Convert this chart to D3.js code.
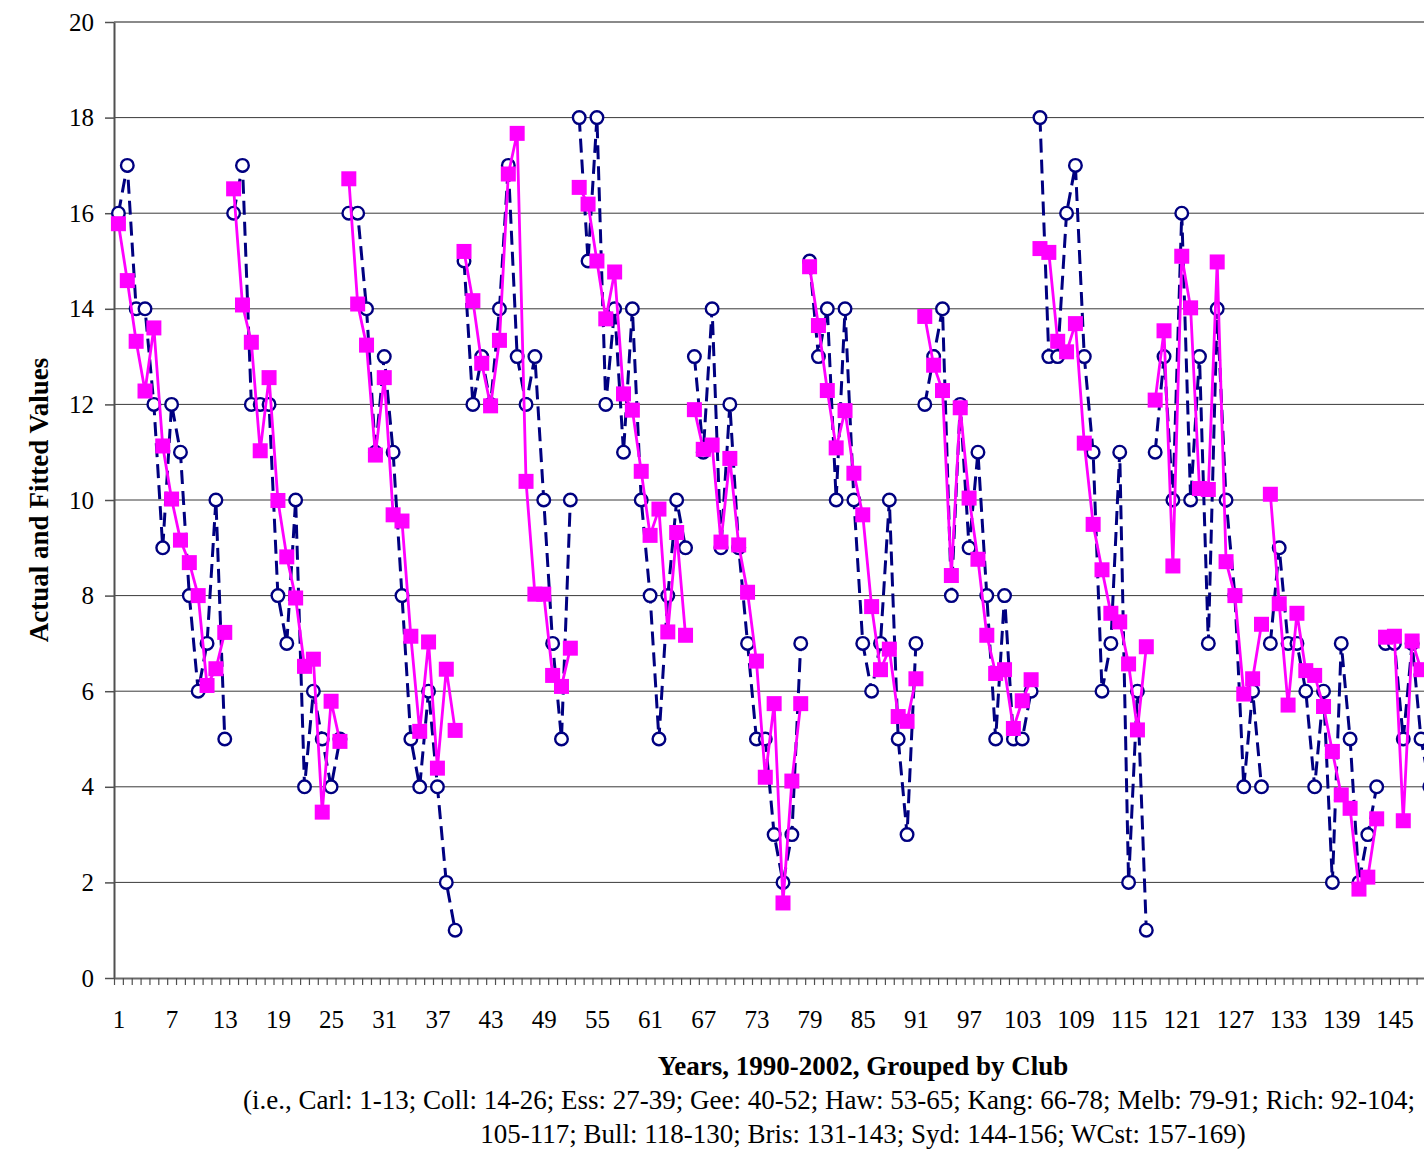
<!DOCTYPE html>
<html>
<head>
<meta charset="utf-8">
<script src="https://cdn.jsdelivr.net/npm/d3@7/dist/d3.min.js"></script>
<style>
  body { margin: 0; background: #fff; }
  svg { display: block; font-family: "Liberation Serif", "Times New Roman", serif; }
</style>
</head>
<body>
<svg id="chart" width="1424" height="1153"></svg>
<script>
// 13 clubs x 13 seasons (1990-2002), one category per club-season
const clubSize = 13
const categoryCount = 169

// only the labels that fit on the page (the chart runs on past the right edge)
const xTickLabels = [1, 7, 13, 19, 25, 31, 37, 43, 49, 55, 61, 67, 73, 79, 85, 91, 97, 103,
  109, 115, 121, 127, 133, 139, 145]
const yTicks = [0, 2, 4, 6, 8, 10, 12, 14, 16, 18, 20]

// actual values, club by club (only the part visible in the picture)
const actual = [
  16, 17, 14, 14, 12, 9, 12, 11, 8, 6, 7, 10, 5,        // Carl
  16, 17, 12, 12, 12, 8, 7, 10, 4, 6, 5, 4, 5,          // Coll
  16, 16, 14, 11, 13, 11, 8, 5, 4, 6, 4, 2, 1,          // Ess
  15, 12, 13, 12, 14, 17, 13, 12, 13, 10, 7, 5, 10,     // Gee
  18, 15, 18, 12, 14, 11, 14, 10, 8, 5, 8, 10, 9,       // Haw
  13, 11, 14, 9, 12, 9, 7, 5, 5, 3, 2, 3, 7,            // Kang
  15, 13, 14, 10, 14, 10, 7, 6, 7, 10, 5, 3, 7,         // Melb
  12, 13, 14, 8, 12, 9, 11, 8, 5, 8, 5, 5, 6,           // Rich
  18, 13, 13, 16, 17, 13, 11, 6, 7, 11, 2, 6, 1,        // 105-117
  11, 13, 10, 16, 10, 13, 7, 14, 10, 8, 4, 6, 4,        // Bull
  7, 9, 7, 7, 6, 4, 6, 2, 7, 5, 2, 3, 4,                // Bris
  7, 7, 5, 7, 5, 4                                      // Syd (cut off)
]

// fitted values
const fitted = [
  15.78, 14.59, 13.32, 12.28, 13.60, 11.13, 10.02, 9.16, 8.69, 8.00, 6.12, 6.47, 7.23,
  16.51, 14.08, 13.30, 11.03, 12.56, 9.99, 8.81, 7.95, 6.52, 6.67, 3.47, 5.79, 4.95,
  16.72, 14.10, 13.24, 10.94, 12.56, 9.69, 9.56, 7.15, 5.16, 7.03, 4.39, 6.46, 5.18,
  15.20, 14.17, 12.86, 11.97, 13.34, 16.82, 17.67, 10.39, 8.03, 8.03, 6.33, 6.10, 6.90,
  16.54, 16.19, 15.00, 13.79, 14.77, 12.22, 11.88, 10.60, 9.26, 9.81, 7.24, 9.32, 7.17,
  11.89, 11.06, 11.15, 9.12, 10.87, 9.06, 8.07, 6.63, 4.20, 5.74, 1.57, 4.12, 5.74,
  14.88, 13.65, 12.29, 11.09, 11.87, 10.56, 9.69, 7.77, 6.45, 6.88, 5.47, 5.37, 6.26,
  13.84, 12.82, 12.29, 8.42, 11.93, 10.04, 8.76, 7.17, 6.37, 6.45, 5.22, 5.80, 6.24,
  15.26, 15.18, 13.32, 13.10, 13.69, 11.19, 9.49, 8.54, 7.63, 7.45, 6.57, 5.19, 6.93,
  12.09, 13.54, 8.62, 15.10, 14.02, 10.24, 10.22, 14.98, 8.71, 8.00, 5.94, 6.26, 7.40,
  10.12, 7.83, 5.71, 7.63, 6.43, 6.33, 5.68, 4.74, 3.83, 3.55, 1.86, 2.11, 3.33,
  7.13, 7.15, 3.29, 7.05, 6.45
]

const svg = d3.select('#chart')
const plotLeft = 114, plotTop = 22, plotBottom = 978
const step = 8.861

// category scale runs past the right edge of the page, like the original
const x = d3.scaleLinear()
  .domain([0.5, categoryCount + 0.5])
  .range([plotLeft, plotLeft + categoryCount * step])
const y = d3.scaleLinear().domain([0, 20]).range([plotBottom, plotTop])
const plotRight = x(categoryCount + 0.5)

// gridlines
svg.append('g')
  .selectAll('line')
  .data(yTicks.filter(d => d > 0))
  .join('line')
  .attr('x1', plotLeft).attr('x2', plotRight)
  .attr('y1', d => y(d)).attr('y2', d => y(d))
  .attr('stroke', d => d === 20 ? '#8a8a8a' : '#3a3a3a')
  .attr('stroke-width', d => d === 20 ? 2 : 1)

// y axis
const yAxis = svg.append('g')
  .attr('transform', `translate(${plotLeft},0)`)
  .call(d3.axisLeft(y).tickValues(yTicks).tickSize(9).tickPadding(11).tickSizeOuter(0))
yAxis.select('.domain').attr('stroke', '#505050').attr('stroke-width', 2)
yAxis.selectAll('.tick line').attr('stroke', '#505050').attr('stroke-width', 1.5)
yAxis.selectAll('text').attr('font-size', 25).attr('fill', '#000').attr('font-family', 'Liberation Serif')

// x axis: minor ticks on category boundaries, labels on categories
const xMinor = svg.append('g')
  .attr('transform', `translate(0,${plotBottom})`)
  .call(d3.axisBottom(x).tickValues(d3.range(0.5, categoryCount + 1, 1)).tickSize(7).tickFormat('').tickSizeOuter(0))
xMinor.select('.domain').attr('stroke', '#6a6a6a').attr('stroke-width', 2)
xMinor.selectAll('.tick line').attr('stroke', '#505050').attr('stroke-width', 1.2)

const xLab = svg.append('g')
  .attr('transform', `translate(0,${plotBottom})`)
  .call(d3.axisBottom(x).tickValues(xTickLabels).tickSize(0).tickPadding(32))
xLab.select('.domain').remove()
xLab.selectAll('text').attr('font-size', 25).attr('fill', '#000').attr('font-family', 'Liberation Serif')

// series split per club so lines don't join across clubs
function byClub(values) {
  const groups = []
  values.forEach((v, k) => {
    const c = Math.floor(k / clubSize)
    if (!groups[c]) groups[c] = []
    groups[c].push({ i: k + 1, v: v })
  })
  return groups
}

const line = d3.line().x(d => x(d.i)).y(d => y(d.v))

const actualG = svg.append('g')
actualG.selectAll('path')
  .data(byClub(actual))
  .join('path')
  .attr('d', line)
  .attr('fill', 'none')
  .attr('stroke', '#000080')
  .attr('stroke-width', 3)
  .attr('stroke-dasharray', '14,7')
actualG.selectAll('circle')
  .data(actual.map((v, k) => ({ i: k + 1, v: v })))
  .join('circle')
  .attr('cx', d => x(d.i))
  .attr('cy', d => y(d.v))
  .attr('r', 6.3)
  .attr('fill', '#fff')
  .attr('stroke', '#000080')
  .attr('stroke-width', 2.4)

const fittedG = svg.append('g')
fittedG.selectAll('path')
  .data(byClub(fitted))
  .join('path')
  .attr('d', line)
  .attr('fill', 'none')
  .attr('stroke', '#ff00ff')
  .attr('stroke-width', 2.8)
fittedG.selectAll('rect')
  .data(fitted.map((v, k) => ({ i: k + 1, v: v })))
  .join('rect')
  .attr('x', d => x(d.i) - 7.5)
  .attr('y', d => y(d.v) - 7.5)
  .attr('width', 15)
  .attr('height', 15)
  .attr('fill', '#ff00ff')

// titles
svg.append('text')
  .attr('transform', 'translate(48,500) rotate(-90)')
  .attr('text-anchor', 'middle')
  .attr('font-size', 27)
  .attr('font-weight', 'bold')
  .text('Actual and Fitted Values')

svg.append('text')
  .attr('x', 863).attr('y', 1075)
  .attr('text-anchor', 'middle')
  .attr('font-size', 27)
  .attr('font-weight', 'bold')
  .text('Years, 1990-2002, Grouped by Club')

svg.append('text')
  .attr('x', 243).attr('y', 1109)
  .attr('font-size', 27)
  .text('(i.e., Carl: 1-13; Coll: 14-26; Ess: 27-39; Gee: 40-52; Haw: 53-65; Kang: 66-78; Melb: 79-91; Rich: 92-104;')

svg.append('text')
  .attr('x', 863).attr('y', 1143)
  .attr('text-anchor', 'middle')
  .attr('font-size', 27)
  .text('105-117; Bull: 118-130; Bris: 131-143; Syd: 144-156; WCst: 157-169)')
</script>
</body>
</html>
